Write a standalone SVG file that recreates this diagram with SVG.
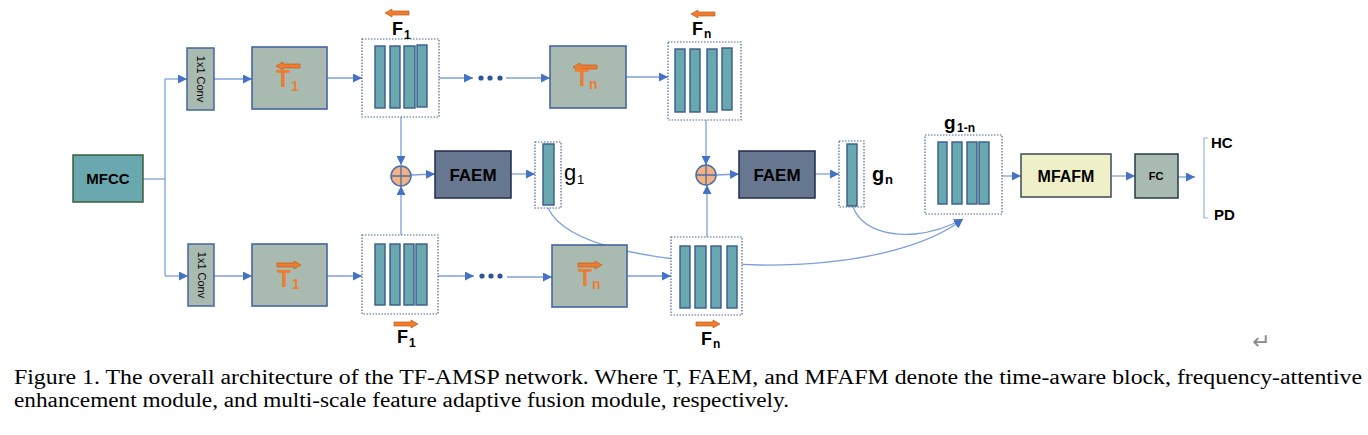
<svg xmlns="http://www.w3.org/2000/svg" xmlns:xlink="http://www.w3.org/1999/xlink" width="1368" height="435" viewBox="0 0 1368 435">
<defs>
<style>
.conn{fill:none;stroke:#7f9fdb;stroke-width:1.3}
.bar{fill:#6aa8b0;stroke:#3b5a8c;stroke-width:1.4}
.dot{fill:#fff;stroke:#4a6496;stroke-width:1.2;stroke-dasharray:1.5 1.5}
.tbox{fill:#a9bbb1;stroke:#4565a0;stroke-width:1.6}
.faem{fill:#687890;stroke:#1f2d4a;stroke-width:1.5}
.oarr{fill:#ed7d31;stroke:#c55a11;stroke-width:0.7}
.tl{font-family:"Liberation Sans",Arial,sans-serif;font-weight:bold;fill:#ed7d31}
.lbl{font-family:"Liberation Sans",Arial,sans-serif;fill:#000}
.b{font-weight:bold}
.cap{font-family:"Liberation Serif","Times New Roman",serif;font-size:20px;fill:#000}
</style>
<marker id="ah" viewBox="0 0 10 10" refX="10" refY="5" markerWidth="9" markerHeight="9" markerUnits="userSpaceOnUse" orient="auto">
<path d="M0,0 L10,5 L0,10 Z" fill="#4472c4"/>
</marker>
<path id="arrL" d="M0,0 L7,-4 L7,-2 L24,-2 L24,2 L7,2 L7,4 Z" class="oarr"/>
<path id="arrR" d="M24,0 L17,-4 L17,-2 L0,-2 L0,2 L17,2 L17,4 Z" class="oarr"/>
</defs>
<rect width="1368" height="435" fill="#fff"/>

<g id="connectors">
<path class="conn" d="M143,179 H165"/>
<path class="conn" d="M165,79 V276"/>
<path class="conn" d="M165,79 H187" marker-end="url(#ah)"/>
<path class="conn" d="M165,276 H188" marker-end="url(#ah)"/>
<path class="conn" d="M214,79 H252" marker-end="url(#ah)"/>
<path class="conn" d="M214,276 H252" marker-end="url(#ah)"/>
<path class="conn" d="M327,78 H362" marker-end="url(#ah)"/>
<path class="conn" d="M327,276 H362" marker-end="url(#ah)"/>
<path class="conn" d="M439,78 H473" marker-end="url(#ah)"/>
<path class="conn" d="M438,276 H474" marker-end="url(#ah)"/>
<path class="conn" d="M506,78 H550" marker-end="url(#ah)"/>
<path class="conn" d="M507,277 H552" marker-end="url(#ah)"/>
<path class="conn" d="M620,77 H668" marker-end="url(#ah)"/>
<path class="conn" d="M624,276 H671" marker-end="url(#ah)"/>
<path class="conn" d="M401,117 V165" marker-end="url(#ah)"/>
<path class="conn" d="M401,235 V186" marker-end="url(#ah)"/>
<path class="conn" d="M706,120 V165" marker-end="url(#ah)"/>
<path class="conn" d="M707,237 V185" marker-end="url(#ah)"/>
<path class="conn" d="M411,175 L435,174" marker-end="url(#ah)"/>
<path class="conn" d="M511,174 H535" marker-end="url(#ah)"/>
<path class="conn" d="M716,175 L739,174" marker-end="url(#ah)"/>
<path class="conn" d="M815,174 H839" marker-end="url(#ah)"/>
<path class="conn" d="M1002,176 H1021" marker-end="url(#ah)"/>
<path class="conn" d="M1111,176 H1135" marker-end="url(#ah)"/>
<path class="conn" d="M1178,177 H1195" marker-end="url(#ah)"/>
<path class="conn" d="M548,208 C565,245 650,262 760,265 C860,266 930,245 963,219" marker-end="url(#ah)"/>
<path class="conn" d="M853,207 C862,230 890,236 915,234 C935,232 950,226 963,219" marker-end="url(#ah)"/>
<circle cx="481" cy="78" r="2.6" fill="#2f5597"/>
<circle cx="490" cy="78" r="2.6" fill="#2f5597"/>
<circle cx="500" cy="78" r="2.6" fill="#2f5597"/>
<circle cx="482" cy="276" r="2.6" fill="#2f5597"/>
<circle cx="491" cy="276" r="2.6" fill="#2f5597"/>
<circle cx="500" cy="276" r="2.6" fill="#2f5597"/>
</g>

<g id="mfcc">
<rect x="73" y="155" width="70" height="47" fill="#6aa8b0" stroke="#3e5e3a" stroke-width="1.5"/>
<text x="108" y="184" text-anchor="middle" class="lbl b" font-size="15" fill="#1a2a2a">MFCC</text>
</g>

<g id="conv-top">
<rect x="187" y="48" width="27" height="62" fill="#a9bbb1" stroke="#4565a0" stroke-width="1.5"/>
<text transform="translate(197,79) rotate(90)" text-anchor="middle" class="lbl" font-size="11">1x1 Conv</text>
</g>
<g id="conv-bottom">
<rect x="188" y="244" width="26" height="62" fill="#a9bbb1" stroke="#4565a0" stroke-width="1.5"/>
<text transform="translate(198,275) rotate(90)" text-anchor="middle" class="lbl" font-size="11">1x1 Conv</text>
</g>

<g id="t1-top">
<rect class="tbox" x="252" y="47" width="75" height="62"/>
<use xlink:href="#arrL" href="#arrL" transform="translate(276,66)"/>
<text class="tl" x="276" y="87" font-size="23">T</text>
<text class="tl" x="291" y="91" font-size="14">1</text>
</g>
<g id="tn-top">
<rect class="tbox" x="550" y="46" width="76" height="62"/>
<use xlink:href="#arrL" href="#arrL" transform="translate(573,67)"/>
<text class="tl" x="575" y="86" font-size="23">T</text>
<text class="tl" x="589" y="89" font-size="14">n</text>
</g>
<g id="t1-bottom">
<rect class="tbox" x="252" y="244" width="75" height="62"/>
<use xlink:href="#arrR" href="#arrR" transform="translate(277,265)"/>
<text class="tl" x="277" y="287" font-size="23">T</text>
<text class="tl" x="292" y="289" font-size="14">1</text>
</g>
<g id="tn-bottom">
<rect class="tbox" x="552" y="245" width="75" height="62"/>
<use xlink:href="#arrR" href="#arrR" transform="translate(578,265)"/>
<text class="tl" x="578" y="286" font-size="23">T</text>
<text class="tl" x="592" y="289" font-size="14">n</text>
</g>

<g id="f1-top">
<rect class="dot" x="362" y="39" width="77" height="78"/>
<rect class="bar" x="375" y="46" width="10" height="62"/>
<rect class="bar" x="390" y="46" width="10" height="62"/>
<rect class="bar" x="404" y="46" width="11" height="62"/>
<rect class="bar" x="417" y="45" width="10" height="62"/>
<use xlink:href="#arrL" href="#arrL" transform="translate(385,13)"/>
<text class="lbl b" x="392" y="35" font-size="18">F</text>
<text class="lbl b" x="404" y="39" font-size="12">1</text>
</g>
<g id="fn-top">
<rect class="dot" x="668" y="42" width="73" height="78"/>
<rect class="bar" x="675" y="49" width="10" height="63"/>
<rect class="bar" x="690" y="49" width="10" height="63"/>
<rect class="bar" x="707" y="49" width="10" height="63"/>
<rect class="bar" x="722" y="48" width="10" height="62"/>
<use xlink:href="#arrL" href="#arrL" transform="translate(691,14)"/>
<text class="lbl b" x="692" y="35" font-size="18">F</text>
<text class="lbl b" x="704" y="38" font-size="12">n</text>
</g>
<g id="f1-bottom">
<rect class="dot" x="362" y="235" width="76" height="79"/>
<rect class="bar" x="375" y="244" width="10" height="61"/>
<rect class="bar" x="390" y="244" width="10" height="61"/>
<rect class="bar" x="404" y="244" width="10" height="61"/>
<rect class="bar" x="416" y="244" width="11" height="61"/>
<use xlink:href="#arrR" href="#arrR" transform="translate(394,324)"/>
<text class="lbl b" x="397" y="343" font-size="18">F</text>
<text class="lbl b" x="409" y="347" font-size="12">1</text>
</g>
<g id="fn-bottom">
<rect class="dot" x="671" y="237" width="71" height="78"/>
<rect class="bar" x="680" y="246" width="10" height="62"/>
<rect class="bar" x="695" y="246" width="11" height="62"/>
<rect class="bar" x="711" y="246" width="10" height="62"/>
<rect class="bar" x="727" y="246" width="10" height="62"/>
<use xlink:href="#arrR" href="#arrR" transform="translate(696,324)"/>
<text class="lbl b" x="701" y="345" font-size="18">F</text>
<text class="lbl b" x="713" y="348" font-size="12">n</text>
</g>

<g id="add-1">
<circle cx="401" cy="176" r="10" fill="#f4b183" stroke="#4a6ea8" stroke-width="1.5"/>
<path d="M391,176 H411 M401,166 V186" stroke="#4a6ea8" stroke-width="1.3"/>
</g>
<g id="add-n">
<circle cx="706" cy="175" r="10" fill="#f4b183" stroke="#4a6ea8" stroke-width="1.5"/>
<path d="M696,175 H716 M706,165 V185" stroke="#4a6ea8" stroke-width="1.3"/>
</g>

<g id="faem-1">
<rect class="faem" x="435" y="151" width="76" height="47"/>
<text x="473" y="181" text-anchor="middle" class="lbl b" font-size="17" fill="#3a4658">FAEM</text>
</g>
<g id="faem-n">
<rect class="faem" x="739" y="151" width="76" height="47"/>
<text x="777" y="181" text-anchor="middle" class="lbl b" font-size="17" fill="#3a4658">FAEM</text>
</g>

<g id="g1">
<rect class="dot" x="535" y="142" width="26" height="66"/>
<rect class="bar" x="543" y="144" width="11" height="61"/>
<text class="lbl" x="564" y="180" font-size="22">g</text>
<text class="lbl" x="577" y="184" font-size="13">1</text>
</g>
<g id="gn">
<rect class="dot" x="839" y="141" width="25" height="66"/>
<rect class="bar" x="847" y="144" width="10" height="62"/>
<text class="lbl b" x="872" y="181" font-size="20">g</text>
<text class="lbl b" x="885" y="184" font-size="13">n</text>
</g>

<g id="g1n">
<rect class="dot" x="925" y="135" width="77" height="79"/>
<rect class="bar" x="938" y="142" width="9" height="62"/>
<rect class="bar" x="952" y="142" width="10" height="62"/>
<rect class="bar" x="967" y="142" width="10" height="62"/>
<rect class="bar" x="979" y="142" width="10" height="62"/>
<text class="lbl b" x="944" y="129" font-size="19">g</text>
<text class="lbl b" x="957" y="132" font-size="12">1-n</text>
</g>

<g id="mfafm">
<rect x="1021" y="154" width="90" height="43" fill="#f0f0c8" stroke="#3a4a5a" stroke-width="1.5"/>
<text x="1066" y="182" text-anchor="middle" class="lbl b" font-size="16" fill="#2e3a4a">MFAFM</text>
</g>
<g id="fc">
<rect x="1135" y="154" width="43" height="44" fill="#a9bbb1" stroke="#2a3a4a" stroke-width="1.5"/>
<text x="1156" y="180" text-anchor="middle" class="lbl b" font-size="11" fill="#1a2a3a">FC</text>
</g>

<g id="outputs">
<path d="M1208,138 H1204 V218 H1208" fill="none" stroke="#9fb4d0" stroke-width="1.2"/>
<text class="lbl b" x="1211" y="148" font-size="15">HC</text>
<text class="lbl b" x="1214" y="220" font-size="15">PD</text>
</g>

<text x="1252" y="349" font-family="DejaVu Sans, sans-serif" font-size="22" fill="#888">↵</text>

<g id="caption">
<text class="cap" x="14" y="384" textLength="1348" lengthAdjust="spacingAndGlyphs">Figure 1. The overall architecture of the TF-AMSP network. Where T, FAEM, and MFAFM denote the time-aware block, frequency-attentive</text>
<text class="cap" x="14" y="407" textLength="775" lengthAdjust="spacingAndGlyphs">enhancement module, and multi-scale feature adaptive fusion module, respectively.</text>
</g>
</svg>
